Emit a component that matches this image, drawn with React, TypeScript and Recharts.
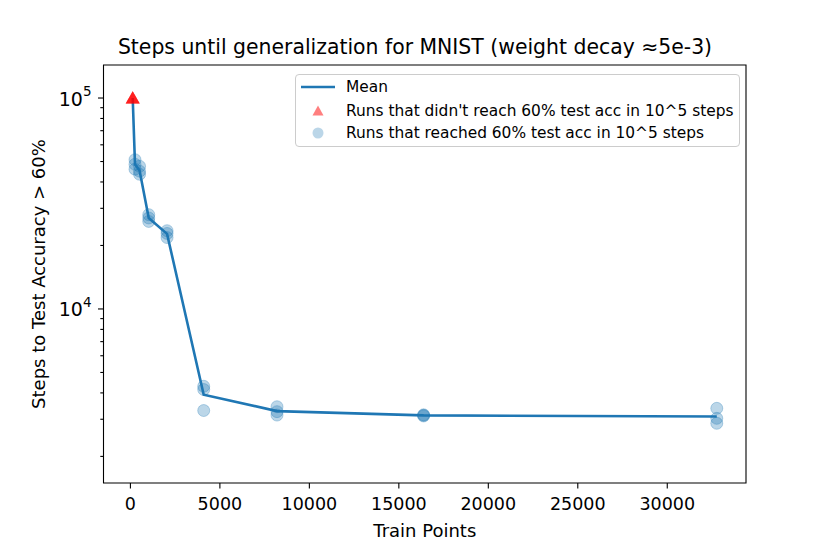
import React from "react";
import { ComposedChart, Line, ReferenceArea, Scatter, XAxis, YAxis } from "recharts";

// Steps-until-generalization plot (log y). The line is the per-size mean,
// red triangles are runs capped at 1e5 steps, blue dots the ones that made it.

const FONT = "'DejaVu Sans', sans-serif";
const BLUE = "#1f77b4";

const trainPoints = [128, 256, 512, 1024, 2048, 4096, 8192, 16384, 32768];
const meanSteps = [100000, 48500, 45300, 27000, 22700, 3920, 3280, 3130, 3090];

const unreachedX = [128, 128, 128];
const unreachedSteps = [100000, 100000, 100000];

const reachedX = [
  256, 256, 256, 512, 512, 512, 1024, 1024, 1024, 2048, 2048, 2048,
  4096, 4096, 4096, 8192, 8192, 8192, 16384, 16384, 16384, 32768, 32768, 32768,
];
const reachedSteps = [
  51000, 48500, 46000, 47500, 45000, 43500, 28000, 27000, 26000, 23500, 22800, 21800,
  4300, 4150, 3300, 3440, 3260, 3140, 3150, 3130, 3110, 3380, 3030, 2870,
];

const xTicks = [0, 5000, 10000, 15000, 20000, 25000, 30000];
const yMajorTicks = [10000, 100000];
const yMinorTicks = [2000, 3000, 4000, 5000, 6000, 7000, 8000, 9000, 20000, 30000, 40000, 50000, 60000, 70000, 80000, 90000];

const X_DOMAIN = [-1504, 34400];
const Y_DOMAIN = [1496, 143400];

const meanRows = trainPoints.map((x, i) => ({ x, y: meanSteps[i] }));
const unreachedRows = unreachedX.map((x, i) => ({ x, y: unreachedSteps[i] }));
const reachedRows = reachedX.map((x, i) => ({ x, y: reachedSteps[i] }));
const yTicks = [...yMinorTicks, ...yMajorTicks].sort((a, b) => a - b);

function YTick({ x, y, payload }: any) {
  const lg = Math.log10(payload.value);
  const exp = Math.round(lg);
  const major = Math.abs(lg - exp) < 1e-9;
  return (
    <g>
      <line x1={x} x2={x - (major ? 5.5 : 3.2)} y1={y} y2={y} stroke="#000" strokeWidth={1.1} />
      {major && (
        <text x={x - 12} y={y + 7.5} textAnchor="end" fontSize={19} fontFamily={FONT} fill="#000">
          10
          <tspan dy={-9.5} fontSize={13.5}>
            {exp}
          </tspan>
        </text>
      )}
    </g>
  );
}

const dot = (p: any) => (
  <circle cx={p.cx} cy={p.cy} r={6} fill={BLUE} fillOpacity={0.3} stroke={BLUE} strokeOpacity={0.3} strokeWidth={1} />
);

const tri = (p: any) => (
  <polygon
    points={`${p.cx},${p.cy - 6.8} ${p.cx - 7},${p.cy + 5.6} ${p.cx + 7},${p.cy + 5.6}`}
    fill="#ff0000"
    fillOpacity={0.5}
  />
);

function LegendBox() {
  const row = (top: number, swatch: React.ReactNode, label: string) => (
    <div style={{ position: "absolute", left: 0, top: top - 10, height: 20, display: "flex", alignItems: "center" }}>
      <svg width={50} height={20}>{swatch}</svg>
      <span style={{ whiteSpace: "nowrap", lineHeight: "20px" }}>{label}</span>
    </div>
  );
  return (
    <div
      style={{
        position: "absolute",
        left: 295,
        top: 74,
        width: 445,
        height: 73,
        boxSizing: "border-box",
        border: "1px solid #cccccc",
        borderRadius: 4,
        background: "rgba(255,255,255,0.8)",
        fontFamily: FONT,
        fontSize: 15.4,
        color: "#000",
      }}
    >
      {row(12, <line x1={5} x2={39} y1={10} y2={10} stroke={BLUE} strokeWidth={2.6} />, "Mean")}
      {row(
        36,
        <polygon points="22,4.5 16.5,14.5 27.5,14.5" fill="#ff0000" fillOpacity={0.5} />,
        "Runs that didn't reach 60% test acc in 10^5 steps"
      )}
      {row(58, <circle cx={22} cy={10} r={5.5} fill={BLUE} fillOpacity={0.3} />, "Runs that reached 60% test acc in 10^5 steps")}
    </div>
  );
}

export default function App() {
  return (
    <div style={{ position: "absolute", left: 0, top: 0, width: 830, height: 554, background: "#fff", fontFamily: FONT }}>
      <div style={{ position: "absolute", left: 0, width: 830, top: 35, textAlign: "center", fontSize: 20.4, color: "#000" }}>
        Steps until generalization for MNIST (weight decay ≈5e-3)
      </div>
      <ComposedChart width={830} height={554} data={meanRows} margin={{ top: 65, right: 84, bottom: 21, left: 43.5 }}>
        <XAxis
          dataKey="x"
          type="number"
          domain={X_DOMAIN}
          ticks={xTicks}
          interval={0}
          allowDataOverflow
          axisLine={false}
          tickSize={5.5}
          tickMargin={9}
          tickLine={{ stroke: "#000", strokeWidth: 1.1 }}
          tick={{ fill: "#000", fontSize: 17.5, fontFamily: FONT }}
          height={50}
        />
        <YAxis
          type="number"
          scale="log"
          domain={Y_DOMAIN}
          ticks={yTicks}
          interval={0}
          allowDataOverflow
          axisLine={false}
          tickLine={false}
          tickSize={0}
          tickMargin={0}
          tick={<YTick />}
          width={60}
        />
        <ReferenceArea
          x1={X_DOMAIN[0]}
          x2={X_DOMAIN[1]}
          y1={Y_DOMAIN[0]}
          y2={Y_DOMAIN[1]}
          fill="none"
          stroke="#000"
          strokeWidth={1.1}
          ifOverflow="visible"
        />
        <Scatter data={unreachedRows} dataKey="y" shape={tri} isAnimationActive={false} />
        <Scatter data={reachedRows} dataKey="y" shape={dot} isAnimationActive={false} />
        <Line dataKey="y" type="linear" stroke={BLUE} strokeWidth={2.6} dot={false} isAnimationActive={false} />
      </ComposedChart>
      <LegendBox />
      <div style={{ position: "absolute", left: 0, width: 849.6, top: 520, textAlign: "center", fontSize: 18, color: "#000" }}>
        Train Points
      </div>
      <div
        style={{
          position: "absolute",
          left: 38,
          top: 274,
          transform: "translate(-50%, -50%) rotate(-90deg)",
          whiteSpace: "nowrap",
          fontSize: 18,
          color: "#000",
        }}
      >
        Steps to Test Accuracy &gt; 60%
      </div>
    </div>
  );
}
